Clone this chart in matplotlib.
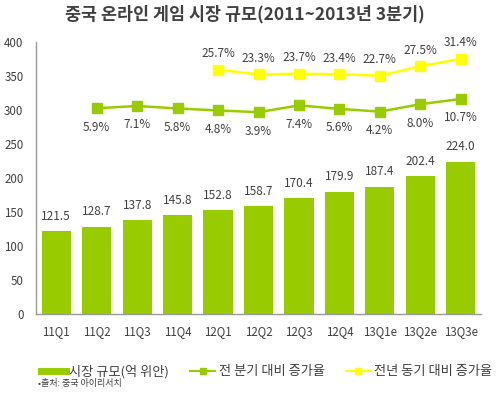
import matplotlib
matplotlib.use("Agg")
import matplotlib.pyplot as plt
from matplotlib.lines import Line2D
import numpy as np

plt.rcParams['font.family'] = ['Noto Sans CJK KR', 'DejaVu Sans']

categories = ["11Q1", "11Q2", "11Q3", "11Q4", "12Q1", "12Q2", "12Q3", "12Q4", "13Q1e", "13Q2e", "13Q3e"]
market = [121.5, 128.7, 137.8, 145.8, 152.8, 158.7, 170.4, 179.9, 187.4, 202.4, 224.0]
qoq = [None, 5.9, 7.1, 5.8, 4.8, 3.9, 7.4, 5.6, 4.2, 8.0, 10.7]
yoy = [None, None, None, None, 25.7, 23.3, 23.7, 23.4, 22.7, 27.5, 31.4]
yticks = [0, 50, 100, 150, 200, 250, 300, 350, 400]

bar_c = "#99CC00"
yel_c = "#FFFF00"
txt_c = "#404040"

fig = plt.figure(figsize=(5.0, 3.93), dpi=100)
ax = fig.add_axes([0.072, 0.201, 0.890, 0.692])
x = np.arange(len(categories))
ax.bar(x, market, width=0.72, color=bar_c, zorder=2)
ax.set_xlim(-0.5, len(categories) - 0.5)
ax.set_ylim(0, 400)
ax.set_yticks(yticks)
ax.set_xticks(x)
ax.set_xticklabels(categories)
ax.tick_params(length=0, labelsize=8.3, colors=txt_c, pad=8)
ax.tick_params(axis='y', pad=9)
for s in ["top", "right"]:
    ax.spines[s].set_visible(False)
for s in ["left", "bottom"]:
    ax.spines[s].set_color("#999999")
    ax.spines[s].set_linewidth(1.0)
for xi, v in zip(x, market):
    ax.annotate(f"{v:.1f}", (xi, v), xytext=(0, 6), textcoords="offset points",
                ha="center", va="bottom", fontsize=8.5, color=txt_c)

ax2 = ax.twinx()
ax2.set_ylim(-100, 40)
ax2.axis("off")
qx = [i for i, v in enumerate(qoq) if v is not None]
qv = [v for v in qoq if v is not None]
yx = [i for i, v in enumerate(yoy) if v is not None]
yv = [v for v in yoy if v is not None]
ax2.plot(qx, qv, color=bar_c, lw=1.8, marker="s", ms=6.5, zorder=3)
ax2.plot(yx, yv, color=yel_c, lw=1.8, marker="s", ms=6.5, zorder=3)
for xi, v in zip(qx, qv):
    ax2.annotate(f"{v:.1f}%", (xi, v), xytext=(0, -9), textcoords="offset points",
                 ha="center", va="top", fontsize=8.5, color=txt_c)
for xi, v in zip(yx, yv):
    ax2.annotate(f"{v:.1f}%", (xi, v), xytext=(0, 7), textcoords="offset points",
                 ha="center", va="bottom", fontsize=8.5, color=txt_c)

fig.text(0.49, 0.965, "중국 온라인 게임 시장 규모(2011~2013년 3분기)", ha="center", va="center",
         fontsize=12.5, color=txt_c, fontweight="bold")

handles = [
    Line2D([], [], color=bar_c, lw=5),
    Line2D([], [], color=bar_c, lw=1.5, marker="s", ms=4),
    Line2D([], [], color=yel_c, lw=1.5, marker="s", ms=4),
]
labels = ["시장 규모(억 위안)", "전 분기 대비 증가율", "전년 동기 대비 증가율"]
fig.legend(handles, labels, loc="center", bbox_to_anchor=(0.533, 0.055), ncol=3, frameon=False,
           fontsize=9.5, handlelength=1.9, handletextpad=0.25, columnspacing=1.6, labelcolor=txt_c,
           borderpad=0.2, borderaxespad=0.0)
fig.text(0.075, 0.025, "•출처: 중국 아이리서치", ha="left", va="center", fontsize=6.5, color=txt_c)

fig.savefig("out.png", dpi=100)
